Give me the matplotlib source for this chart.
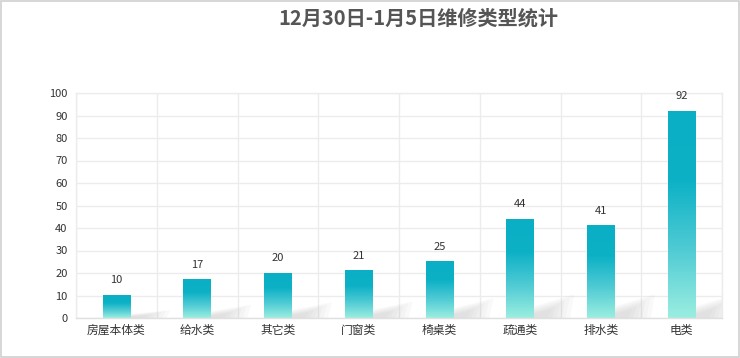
import matplotlib.pyplot as plt
import numpy as np
from matplotlib.colors import LinearSegmentedColormap
from matplotlib.patches import Polygon, Rectangle

plt.rcParams['font.family'] = ['Noto Sans CJK SC', 'DejaVu Sans']

categories = ['房屋本体类', '给水类', '其它类', '门窗类', '椅桌类', '疏通类', '排水类', '电类']
values = [10, 17, 20, 21, 25, 44, 41, 92]
title = '12月30日-1月5日维修类型统计'

fig = plt.figure(figsize=(7.4, 3.58), dpi=100)
fig.patch.set_facecolor('white')
# thin border round the picture
fig.add_artist(Rectangle((0.001, 0.002), 0.997, 0.995, transform=fig.transFigure,
                         fill=False, edgecolor='#d0d0d0', linewidth=1.2))

ax = fig.add_axes([76 / 740, 40 / 358, 646 / 740, 225 / 358])
ax.set_xlim(0, len(categories))
ax.set_ylim(0, 100)

# gradient: teal at top, mint at bottom
cmap = LinearSegmentedColormap.from_list('bar', ['#9beee0', '#4fcbd4', '#0cb1c6', '#0aafc5'])
grad = np.linspace(0, 1, 256).reshape(-1, 1)

bw = 0.34
for i, v in enumerate(values):
    xc = i + 0.5
    # soft shadow behind the bar
    for k in range(6):
        a = 0.05
        dx = 0.45 * (1 - k / 8)
        dy = min(v, 30) * 0.35 * (1 - k / 8)
        ax.add_patch(Polygon([[xc + bw / 2, 0], [xc + bw / 2 + dx, 0],
                              [xc + bw / 2 + dx + 0.05, dy], [xc + bw / 2, dy * 0.5]],
                             closed=True, facecolor='#9a9a9a', edgecolor='none',
                             alpha=a, zorder=1))
    ax.imshow(grad, extent=[xc - bw / 2, xc + bw / 2, 0, v], origin='lower',
              cmap=cmap, aspect='auto', zorder=2, interpolation='bilinear')
    ax.text(xc, v + 4.5, str(v), ha='center', va='bottom', fontsize=8,
            color='#333333', zorder=3)

ax.set_xlim(0, len(categories))
ax.set_ylim(0, 100)

ax.set_xticks(np.arange(len(categories)) + 0.5)
ax.set_xticklabels(categories, fontsize=8.5, color='#333333')
ax.set_xticks(np.arange(len(categories) + 1), minor=True)
ax.set_yticks(np.arange(0, 101, 10))
ax.tick_params(axis='y', labelsize=8, colors='#333333', length=0, pad=6)
ax.tick_params(axis='x', which='both', length=0, pad=4)

ax.grid(True, which='minor', axis='x', color='#ececec', linewidth=1)
ax.grid(True, which='major', axis='y', color='#ececec', linewidth=1)
ax.set_axisbelow(True)
for s in ax.spines.values():
    s.set_color('#ececec')
    s.set_linewidth(1)
ax.spines['bottom'].set_color('#e0e0e0')

fig.text(418 / 740, 1 - 18 / 358, title, ha='center', va='center', fontsize=14.5,
         fontweight='bold', color='#555555')

fig.savefig('out.png', dpi=100, facecolor='white')
